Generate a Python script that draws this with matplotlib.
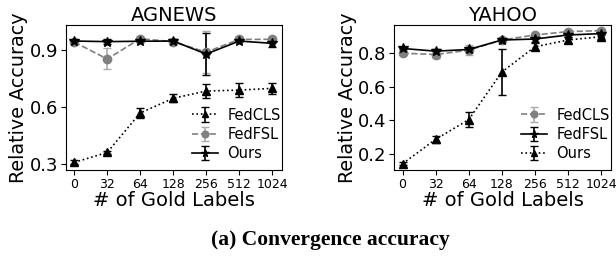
import numpy as np
import matplotlib
matplotlib.use("Agg")
import matplotlib.pyplot as plt

gold_labels = ["0", "32", "64", "128", "256", "512", "1024"]

# AGNEWS
ag_fedcls = [0.31, 0.362, 0.569, 0.646, 0.684, 0.689, 0.698]
ag_fedcls_err = [0.01, 0.01, 0.025, 0.02, 0.035, 0.035, 0.03]
ag_fedfsl = [0.941, 0.852, 0.958, 0.943, 0.888, 0.955, 0.955]
ag_fedfsl_err = [0.01, 0.055, 0.01, 0.015, 0.11, 0.01, 0.01]
ag_ours = [0.946, 0.943, 0.945, 0.946, 0.878, 0.946, 0.934]
ag_ours_err = [0.005, 0.015, 0.005, 0.01, 0.11, 0.005, 0.02]

# YAHOO
ya_fedcls = [0.798, 0.79, 0.816, 0.876, 0.906, 0.926, 0.932]
ya_fedcls_err = [0.01, 0.02, 0.03, 0.01, 0.01, 0.01, 0.01]
ya_fedfsl = [0.826, 0.81, 0.82, 0.876, 0.882, 0.906, 0.914]
ya_fedfsl_err = [0.005, 0.01, 0.01, 0.005, 0.02, 0.01, 0.01]
ya_ours = [0.142, 0.287, 0.404, 0.686, 0.836, 0.876, 0.896]
ya_ours_err = [0.01, 0.02, 0.045, 0.137, 0.02, 0.02, 0.015]

x = np.arange(len(gold_labels))

fig = plt.figure(figsize=(6.16, 2.58), dpi=100)
ax1 = fig.add_axes([0.107, 0.341, 0.351, 0.562])
ax2 = fig.add_axes([0.640, 0.341, 0.352, 0.562])

tri = dict(color="black", marker="^", linestyle=":", markersize=6, capsize=3, linewidth=1.2)
circ = dict(color="gray", ecolor="#aaaaaa", marker="o", linestyle="--", markersize=6, capsize=3, linewidth=1.2)
star = dict(color="black", marker="*", linestyle="-", markersize=7, capsize=3, linewidth=1.2)

ax1.errorbar(x, ag_fedcls, yerr=ag_fedcls_err, label="FedCLS", **tri)
ax1.errorbar(x, ag_fedfsl, yerr=ag_fedfsl_err, label="FedFSL", **circ)
ax1.errorbar(x, ag_ours, yerr=ag_ours_err, label="Ours", **star)
ax1.set_ylim(0.27, 1.03)
ax1.set_yticks([0.3, 0.6, 0.9])
ax1.set_title("AGNEWS", fontsize=14, pad=3)

ax2.errorbar(x, ya_fedcls, yerr=ya_fedcls_err, label="FedCLS", **circ)
ax2.errorbar(x, ya_fedfsl, yerr=ya_fedfsl_err, label="FedFSL", **star)
ax2.errorbar(x, ya_ours, yerr=ya_ours_err, label="Ours", **tri)
ax2.set_ylim(0.105, 0.965)
ax2.set_yticks([0.2, 0.4, 0.6, 0.8])
ax2.set_title("YAHOO", fontsize=14, pad=3)

for ax in (ax1, ax2):
    ax.set_xlim(-0.25, 6.3)
    ax.set_xticks(x)
    ax.set_xticklabels(gold_labels, fontsize=9)
    ax.tick_params(axis="y", labelsize=13, pad=2)
    ax.tick_params(axis="x", pad=2)
    ax.set_xlabel("# of Gold Labels", fontsize=14, labelpad=0)
    ax.set_ylabel("Relative Accuracy", fontsize=13.8, labelpad=1)
    ax.legend(loc="lower right", bbox_to_anchor=(1.02, 0.02), frameon=False,
              fontsize=10.5, handlelength=1.8, handletextpad=0.6,
              labelspacing=0.3, borderaxespad=0.0, markerscale=0.8)

fig.text(0.536, 0.068, "(a) Convergence accuracy", ha="center", va="center",
         fontsize=15.5, fontweight="bold", family="Liberation Serif")

fig.savefig("out.png", dpi=100)
